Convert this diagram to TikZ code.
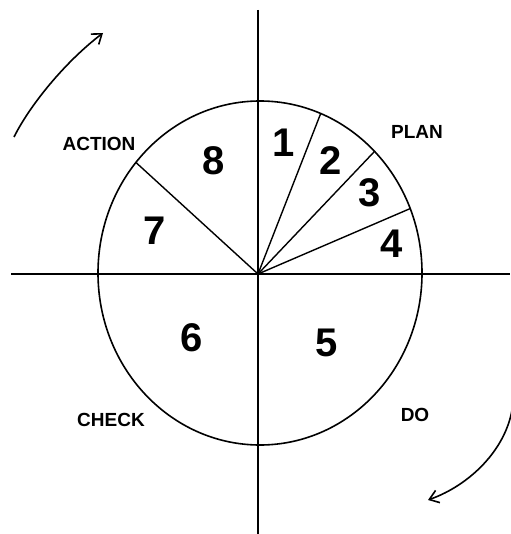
\documentclass[tikz,border=0pt]{standalone}
\usepackage{fontspec}
\setmainfont{Liberation Sans}
\usetikzlibrary{arrows.meta,calc}

\begin{document}
\begin{tikzpicture}[x=1pt,y=-1pt,>={Straight Barb[length=9pt,width=13pt]},
  axis/.style={line width=2.2pt},
  rim/.style={line width=1.6pt},
  spoke/.style={line width=1.4pt},
  turn/.style={->,line width=1.6pt},
  digit/.style={font=\fontsize{40}{40}\selectfont\bfseries},
  phase/.style={font=\fontsize{19}{19}\selectfont\bfseries}]
\useasboundingbox (0,0) rectangle (510,534);
% axes and rim
\coordinate (O) at (258,274);
\coordinate (E) at (260,273);
\coordinate (top) at (258,10);
\coordinate (bot) at (258,534);
\coordinate (lft) at (11,274);
\coordinate (rgt) at (510,274);
\draw[axis] (top) -- (bot);
\draw[axis] (lft) -- (rgt);
\draw[rim] (E) ellipse [x radius=162, y radius=172];
% spokes
\foreach \a/\n in {68/s12,45/s23,22/s34,140/s78}
  \coordinate (\n) at ($(E)+(-\a:162 and 172)$);
\foreach \n in {s12,s23,s34,s78}
  \draw[spoke] (O) -- (\n);
% numbers
\node[digit] (n1) at (284,143) {1};
\node[digit] (n2) at (331,161) {2};
\node[digit] (n3) at (370,193) {3};
\node[digit] (n4) at (392,244) {4};
\node[digit] (n5) at (327,343) {5};
\node[digit] (n6) at (192,338) {6};
\node[digit] (n7) at (155,231) {7};
\node[digit] (n8) at (214,161) {8};
% phases
\node[phase] (action) at (99,144) {ACTION};
\node[phase] (plan) at (417,132) {PLAN};
\node[phase] (check) at (111,420) {CHECK};
\node[phase] (do) at (415,415) {DO};
% turning arrows
\coordinate (a1) at (14,137);
\coordinate (a2) at (103,33);
\coordinate (b1) at (512,410);
\coordinate (b2) at (428,500);
\draw[turn] (a1) .. controls (30,105) and (65,62) .. (a2);
\draw[turn] (b1) .. controls (505,450) and (470,485) .. (b2);
\end{tikzpicture}
\end{document}
